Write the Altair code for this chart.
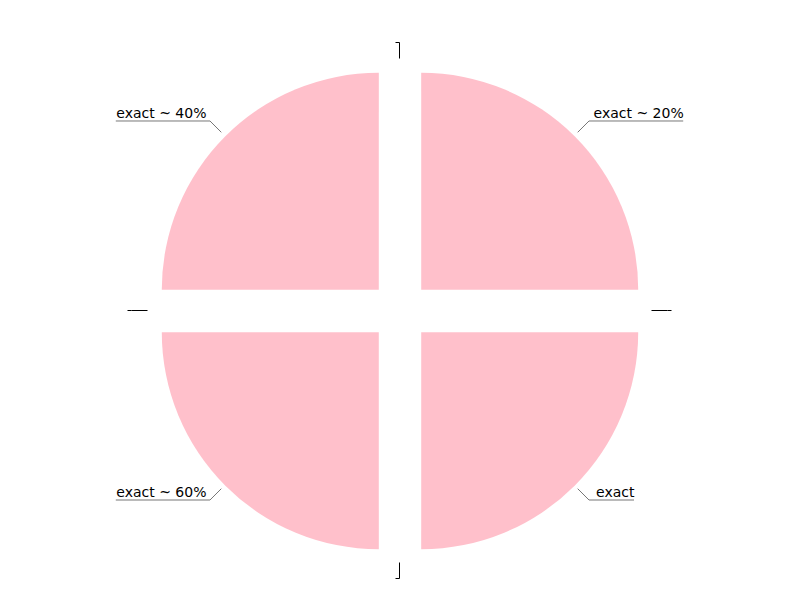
import altair as alt
import pandas as pd

# Slices in clockwise order from 12 o'clock (zero-value slices carry empty labels)
labels = ["", "exact ~ 20%", "", "exact", "", "exact ~ 60%", "", "exact ~ 40%"]
values = [0, 1, 0, 1, 0, 1, 0, 1]
order = list(range(len(labels)))

df = pd.DataFrame({"label": labels, "value": values, "idx": order})

EXPLODE = 30
R = 217
W, H = 784, 584

xs = alt.Scale(domain=[-392, 392], nice=False, zero=False)
ys = alt.Scale(domain=[-281, 303], nice=False, zero=False)

base = alt.Chart(df).transform_window(
    cum="sum(value)", sort=[alt.SortField("idx")], frame=[None, 0]
).transform_joinaggregate(
    total="sum(value)"
).transform_calculate(
    a0="2*PI*(datum.cum-datum.value)/datum.total",
    a1="2*PI*datum.cum/datum.total",
).transform_calculate(
    mid="(datum.a0+datum.a1)/2"
).transform_calculate(
    dx=f"{EXPLODE}*sin(datum.mid)",
    dy=f"{EXPLODE}*cos(datum.mid)",
    side="sin(datum.mid) > 0.01 ? 1 : -1",
    lc="datum.label == '' ? 'black' : '#777777'",
).transform_calculate(
    x1=f"datum.dx + {R + 5}*sin(datum.mid)",
    y1=f"datum.dy + {R + 5}*cos(datum.mid)",
    x2=f"datum.dx + {R + 21}*sin(datum.mid)",
    y2=f"datum.dy + {R + 21}*cos(datum.mid)",
).transform_calculate(
    x3="datum.x2 + datum.side*(length(datum.label)*8.2 + 4)"
)

arcs = base.transform_filter("datum.value > 0").mark_arc(
    radius=R, color="pink"
).encode(
    x=alt.X("dx:Q", scale=xs, axis=None),
    y=alt.Y("dy:Q", scale=ys, axis=None),
    theta=alt.Theta("a0:Q", scale=None),
    theta2="a1:Q",
)

rule_props = dict(strokeWidth=1, xOffset=-0.5, yOffset=-0.5,
                  x2Offset=-0.5, y2Offset=-0.5)

diag = base.mark_rule(**rule_props).encode(
    x=alt.X("x1:Q", scale=xs, axis=None),
    y=alt.Y("y1:Q", scale=ys, axis=None),
    x2="x2:Q",
    y2="y2:Q",
    color=alt.Color("lc:N", scale=None),
)

horiz = base.mark_rule(**rule_props).encode(
    x=alt.X("x2:Q", scale=xs, axis=None),
    y=alt.Y("y2:Q", scale=ys, axis=None),
    x2="x3:Q",
    color=alt.Color("lc:N", scale=None),
)

text_right = base.transform_filter("datum.side > 0").mark_text(
    align="right", baseline="alphabetic", dy=-3.5, fontSize=14,
    font="DejaVu Sans", color="black"
).encode(
    x=alt.X("x3:Q", scale=xs, axis=None),
    y=alt.Y("y2:Q", scale=ys, axis=None),
    text="label:N",
)

text_left = base.transform_filter("datum.side < 0").mark_text(
    align="left", baseline="alphabetic", dy=-3.5, fontSize=14,
    font="DejaVu Sans", color="black"
).encode(
    x=alt.X("x3:Q", scale=xs, axis=None),
    y=alt.Y("y2:Q", scale=ys, axis=None),
    text="label:N",
)

chart = alt.layer(arcs, diag, horiz, text_right, text_left).properties(
    width=W, height=H, padding=0
).configure_view(stroke=None)

chart.save("out.html", embed_options={"renderer": "svg", "actions": False})
